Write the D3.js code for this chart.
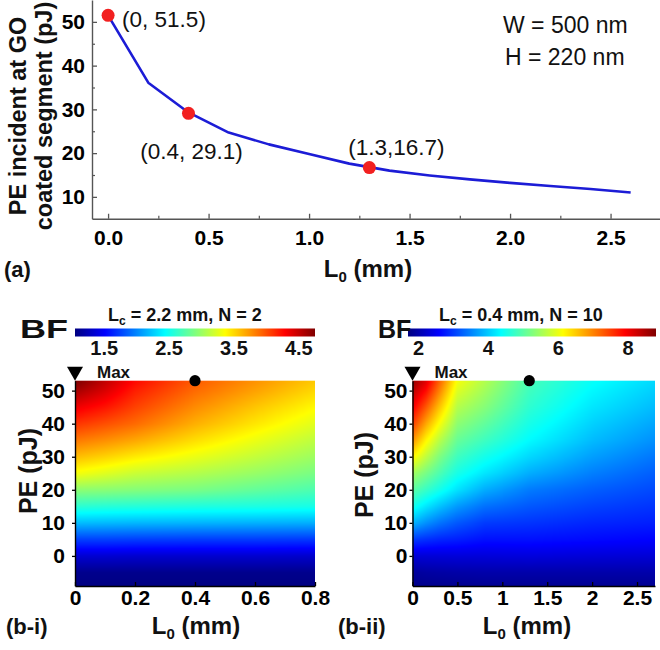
<!DOCTYPE html>
<html>
<head>
<meta charset="utf-8">
<script src="https://cdn.jsdelivr.net/npm/d3@7"></script>
<style>
  body { margin: 0; background: #fff; }
  svg { display: block; font-family: "Liberation Sans", Arial, sans-serif; }
</style>
</head>
<body>
<svg id="fig" width="660" height="650"></svg>
<script>
// ---------- panel (a): pulse energy reaching the GO-coated segment ----------
const lengthMm    = [0, 0.2, 0.4, 0.6, 0.8, 1.0, 1.2, 1.4, 1.6, 1.8, 2.0, 2.2, 2.4, 2.6];
const pulseEnergy = [51.5, 36.1, 29.3, 24.7, 22.0, 19.8, 17.6, 16.0, 14.9, 14.0, 13.2, 12.5, 11.8, 11.0];
const markedL0     = [0, 0.4, 1.3];
const markedPE     = [51.5, 29.1, 16.7];
const markedLabels = ["(0, 51.5)", "(0.4, 29.1)", "(1.3,16.7)"];
const xTicksA      = [0, 0.5, 1.0, 1.5, 2.0, 2.5];
const xMinorA      = [0.25, 0.75, 1.25, 1.75, 2.25];
const yTicksA      = [10, 20, 30, 40, 50];
const yMinorA      = [15, 25, 35, 45];

// ---------- panels (b): bend factor BF over (L0, PE) ----------
const peRows = [52.5, 50, 45, 40, 35, 30, 25, 20, 15, 10, 5, 0, -5, -10];
const peTicks = [0, 10, 20, 30, 40, 50];

// (b-i) Lc = 2.2 mm, N = 2
const l0Cols1 = [0, 0.1, 0.2, 0.4, 0.6, 0.8];
const bfGrid1 = [
  [4.75, 4.50, 4.25, 3.95, 3.75, 3.55],
  [4.62, 4.42, 4.18, 3.90, 3.70, 3.50],
  [4.35, 4.22, 4.05, 3.78, 3.57, 3.38],
  [4.10, 4.00, 3.90, 3.65, 3.45, 3.26],
  [3.85, 3.77, 3.68, 3.48, 3.30, 3.13],
  [3.60, 3.52, 3.43, 3.29, 3.15, 3.01],
  [3.33, 3.25, 3.17, 3.09, 2.99, 2.88],
  [2.95, 2.94, 2.92, 2.88, 2.80, 2.72],
  [2.60, 2.58, 2.57, 2.55, 2.54, 2.52],
  [2.20, 2.19, 2.18, 2.17, 2.16, 2.15],
  [1.75, 1.75, 1.74, 1.73, 1.73, 1.72],
  [1.35, 1.35, 1.34, 1.34, 1.34, 1.33],
  [1.10, 1.10, 1.10, 1.10, 1.10, 1.10],
  [1.05, 1.05, 1.05, 1.05, 1.05, 1.05]
];
const xTicks1 = [0, 0.2, 0.4, 0.6, 0.8];
const bfRange1 = [1.05, 4.75];
const bfTicks1 = [1.5, 2.5, 3.5, 4.5];

// (b-ii) Lc = 0.4 mm, N = 10
const l0Cols2 = [0, 0.15, 0.3, 0.5, 0.8, 1.3, 2.0, 2.7];
const bfGrid2 = [
  [8.60, 8.10, 7.20, 6.05, 5.60, 4.85, 4.40, 4.10],
  [8.40, 7.85, 7.00, 5.90, 5.50, 4.80, 4.33, 4.03],
  [8.00, 7.30, 6.55, 5.62, 5.30, 4.68, 4.20, 3.90],
  [7.50, 6.75, 6.10, 5.35, 5.05, 4.52, 4.05, 3.75],
  [6.90, 6.20, 5.65, 5.08, 4.80, 4.35, 3.90, 3.60],
  [6.20, 5.70, 5.25, 4.80, 4.50, 4.10, 3.70, 3.42],
  [5.50, 5.20, 4.90, 4.52, 4.20, 3.80, 3.48, 3.25],
  [5.00, 4.75, 4.50, 4.17, 3.80, 3.45, 3.25, 3.10],
  [4.50, 4.20, 3.95, 3.66, 3.38, 3.20, 3.05, 2.95],
  [3.85, 3.60, 3.40, 3.20, 3.00, 2.95, 2.85, 2.80],
  [3.00, 2.92, 2.85, 2.80, 2.70, 2.70, 2.65, 2.60],
  [2.30, 2.31, 2.32, 2.33, 2.33, 2.35, 2.32, 2.30],
  [1.90, 1.94, 1.96, 1.98, 2.00, 2.00, 2.00, 2.00],
  [1.75, 1.76, 1.77, 1.78, 1.80, 1.80, 1.80, 1.80]
];
const xTicks2 = [0, 0.5, 1, 1.5, 2, 2.5];
const bfRange2 = [1.7, 8.8];
const bfTicks2 = [2, 4, 6, 8];

// jet colour map stops
const jet = ["#00007f", "#0000ff", "#007fff", "#00ffff", "#7fff7f", "#ffff00", "#ff7f00", "#ff0000", "#7f0000"];

const svg = d3.select("#fig");
const FONT = '"Liberation Sans", Arial, sans-serif';

function styleAxis(g, size, color) {
  g.attr("font-family", FONT).attr("font-size", size).attr("font-weight", "bold");
  g.selectAll("text").attr("fill", "#000");
  g.selectAll("line").attr("stroke", color).attr("stroke-width", 1.3);
  g.select(".domain").attr("stroke", color).attr("stroke-width", 1.4);
}

// text with a subscript: base, sub, rest
function subText(sel, base, sub, rest, size, subSize) {
  sel.append("tspan").text(base);
  sel.append("tspan").attr("font-size", subSize).attr("dy", size * 0.22).text(sub);
  sel.append("tspan").attr("dy", -size * 0.22).text(rest);
}

// ================= panel (a) =================
const xA = d3.scaleLinear().domain([-0.08, 2.746]).range([92, 660]);
const yA = d3.scaleLinear().domain([5, 55]).range([218.75, 0]);

const gxA = svg.append("g").attr("transform", `translate(0,${yA(5)})`)
  .call(d3.axisBottom(xA).tickValues(xTicksA).tickFormat(d3.format(".1f"))
    .tickSizeInner(-5).tickSizeOuter(0).tickPadding(11));
styleAxis(gxA, 21, "#555");
const gxAm = svg.append("g").attr("transform", `translate(0,${yA(5)})`)
  .call(d3.axisBottom(xA).tickValues(xMinorA).tickFormat("").tickSizeInner(-3).tickSizeOuter(0));
gxAm.select(".domain").remove();
gxAm.selectAll("line").attr("stroke", "#555").attr("stroke-width", 1.2);

const gyA = svg.append("g").attr("transform", `translate(${xA(-0.08)},0)`)
  .call(d3.axisLeft(yA).tickValues(yTicksA).tickSizeInner(-5).tickSizeOuter(0).tickPadding(7));
styleAxis(gyA, 21, "#555");
const gyAm = svg.append("g").attr("transform", `translate(${xA(-0.08)},0)`)
  .call(d3.axisLeft(yA).tickValues(yMinorA).tickFormat("").tickSizeInner(-3).tickSizeOuter(0));
gyAm.select(".domain").remove();
gyAm.selectAll("line").attr("stroke", "#555").attr("stroke-width", 1.2);

const curve = lengthMm.map((l, i) => [l, pulseEnergy[i]]);
svg.append("path")
  .attr("d", d3.line().x(d => xA(d[0])).y(d => yA(d[1]))(curve))
  .attr("fill", "none").attr("stroke", "#1c1cd6").attr("stroke-width", 2.6)
  .attr("stroke-linejoin", "round");

svg.selectAll("circle.mark").data(markedL0).join("circle").attr("class", "mark")
  .attr("cx", (d) => xA(d)).attr("cy", (d, i) => yA(markedPE[i]))
  .attr("r", 6.5).attr("fill", "#f22020");

// point annotations, offset from each marked point
const labelOffsets = [[14, 12, "start"], [3, 46, "middle"], [27, -12.5, "middle"]];
svg.selectAll("text.mlabel").data(markedLabels).join("text").attr("class", "mlabel")
  .attr("x", (d, i) => xA(markedL0[i]) + labelOffsets[i][0])
  .attr("y", (d, i) => yA(markedPE[i]) + labelOffsets[i][1])
  .attr("text-anchor", (d, i) => labelOffsets[i][2])
  .attr("font-family", FONT).attr("font-size", 22.5).attr("fill", "#111")
  .text(d => d);

svg.append("text").attr("x", 503).attr("y", 33).attr("font-family", FONT)
  .attr("font-size", 23).attr("fill", "#111").text("W = 500 nm");
svg.append("text").attr("x", 505).attr("y", 65).attr("font-family", FONT)
  .attr("font-size", 23).attr("fill", "#111").text("H = 220 nm");

const yTitleA = svg.append("g").attr("transform", "translate(0,116) rotate(-90)")
  .attr("font-family", FONT).attr("font-size", 23.5).attr("font-weight", "bold")
  .attr("text-anchor", "middle").attr("fill", "#111");
yTitleA.append("text").attr("x", 0).attr("y", 26).text("PE incident at GO");
yTitleA.append("text").attr("x", 0).attr("y", 52).text("coated segment (pJ)");

const xTitleA = svg.append("text").attr("x", 368).attr("y", 277)
  .attr("text-anchor", "middle").attr("font-family", FONT)
  .attr("font-size", 24).attr("font-weight", "bold").attr("fill", "#111");
subText(xTitleA, "L", "0", " (mm)", 24, 15);

svg.append("text").attr("x", 4).attr("y", 277).attr("font-family", FONT)
  .attr("font-size", 22).attr("font-weight", "bold").attr("fill", "#111").text("(a)");

// ================= panels (b) =================
const yB = d3.scaleLinear().domain([-9.1, 53.0]).range([586, 380.7]);

function makeField(cols, rowsDesc, grid) {
  const rows = rowsDesc.slice().reverse();
  const g = grid.slice().reverse();
  return (l, p) => {
    const i = Math.max(0, Math.min(cols.length - 2, d3.bisectRight(cols, l) - 1));
    const j = Math.max(0, Math.min(rows.length - 2, d3.bisectRight(rows, p) - 1));
    const tx = Math.max(0, Math.min(1, (l - cols[i]) / (cols[i + 1] - cols[i])));
    const ty = Math.max(0, Math.min(1, (p - rows[j]) / (rows[j + 1] - rows[j])));
    const a = g[j][i] * (1 - tx) + g[j][i + 1] * tx;
    const b = g[j + 1][i] * (1 - tx) + g[j + 1][i + 1] * tx;
    return a * (1 - ty) + b * ty;
  };
}

const panels = [
  { range: [75, 315], l0Max: 0.8, cols: l0Cols1, grid: bfGrid1, xTicks: xTicks1,
    xFmt: d => d === 0 ? "0" : d.toFixed(1), bf: bfRange1, bfTicks: bfTicks1, bfFmt: d3.format(".1f"),
    bar: [75, 315], lc: " = 2.2 mm, N = 2", titleX: 185, bfX: 20, bfLen: 48, yPad: 10,
    peX: 37, peY: 471, lX: 196, tag: "(b-i)", tagX: 6, dotL0: markedL0[1] },
  { range: [412.5, 655], l0Max: 2.7, cols: l0Cols2, grid: bfGrid2, xTicks: xTicks2,
    xFmt: d => String(d), bf: bfRange2, bfTicks: bfTicks2, bfFmt: d3.format("d"),
    bar: [408, 656], lc: " = 0.4 mm, N = 10", titleX: 521, bfX: 378, bfLen: null, yPad: 5,
    peX: 373, peY: 475, lX: 527, tag: "(b-ii)", tagX: 338, dotL0: markedL0[2] }
];

panels.forEach((p, k) => {
  const x = d3.scaleLinear().domain([0, p.l0Max]).range(p.range);
  const stops = d3.range(jet.length).map(i => p.bf[0] + i * (p.bf[1] - p.bf[0]) / (jet.length - 1));
  const color = d3.scaleLinear().domain(stops).range(jet).clamp(true);
  const field = makeField(p.cols, peRows, p.grid);

  // heat map raster
  const w = Math.round(p.range[1] - p.range[0]);
  const h = Math.round(yB.range()[0] - yB.range()[1]);
  const cv = document.createElement("canvas");
  cv.width = w; cv.height = h;
  const ctx = cv.getContext("2d");
  const img = ctx.createImageData(w, h);
  for (let py = 0; py < h; py++) {
    const pe = yB.invert(yB.range()[1] + (py + 0.5) * (yB.range()[0] - yB.range()[1]) / h);
    for (let px = 0; px < w; px++) {
      const l0 = x.invert(p.range[0] + (px + 0.5) * (p.range[1] - p.range[0]) / w);
      const c = d3.rgb(color(field(l0, pe)));
      const o = (py * w + px) * 4;
      img.data[o] = c.r; img.data[o + 1] = c.g; img.data[o + 2] = c.b; img.data[o + 3] = 255;
    }
  }
  ctx.putImageData(img, 0, 0);
  svg.append("image").attr("href", cv.toDataURL())
    .attr("x", p.range[0]).attr("y", yB.range()[1])
    .attr("width", p.range[1] - p.range[0]).attr("height", yB.range()[0] - yB.range()[1])
    .attr("preserveAspectRatio", "none");

  // axes
  const gx = svg.append("g").attr("transform", `translate(0,${yB.range()[0]})`)
    .call(d3.axisBottom(x).tickValues(p.xTicks).tickFormat(p.xFmt)
      .tickSizeInner(-4).tickSizeOuter(0).tickPadding(4));
  styleAxis(gx, 21, "#000");
  const gy = svg.append("g").attr("transform", `translate(${p.range[0]},0)`)
    .call(d3.axisLeft(yB).tickValues(peTicks).tickSizeInner(3).tickSizeOuter(0).tickPadding(p.yPad - 3));
  styleAxis(gy, 21, "#000");

  // axis titles
  svg.append("text").attr("transform", `translate(${p.peX},${p.peY}) rotate(-90)`)
    .attr("text-anchor", "middle").attr("font-family", FONT).attr("font-size", 25)
    .attr("font-weight", "bold").attr("fill", "#111").text("PE (pJ)");
  const lT = svg.append("text").attr("x", p.lX).attr("y", 634).attr("text-anchor", "middle")
    .attr("font-family", FONT).attr("font-size", 24).attr("font-weight", "bold").attr("fill", "#111");
  subText(lT, "L", "0", " (mm)", 24, 15);
  svg.append("text").attr("x", p.tagX).attr("y", 634).attr("font-family", FONT)
    .attr("font-size", 22).attr("font-weight", "bold").attr("fill", "#111").text(p.tag);

  // max marker and operating point
  const top = yB.range()[1];
  svg.append("path")
    .attr("d", `M${x(0) - 8},${top - 14}L${x(0) + 8},${top - 14}L${x(0)},${top}Z`)
    .attr("fill", "#000");
  svg.append("text").attr("x", x(0) + 22).attr("y", top - 3).attr("font-family", FONT)
    .attr("font-size", 17).attr("font-weight", "bold").attr("fill", "#111").text("Max");
  svg.append("circle").attr("cx", x(p.dotL0)).attr("cy", yB(yB.domain()[1])).attr("r", 5.6).attr("fill", "#000");

  // colour bar
  const cb = d3.scaleLinear().domain(p.bf).range(p.bar);
  const gid = "jetgrad" + k;
  const grad = svg.append("defs").append("linearGradient").attr("id", gid)
    .attr("x1", "0%").attr("x2", "100%").attr("y1", "0%").attr("y2", "0%");
  d3.range(41).forEach(i => {
    const v = p.bf[0] + i * (p.bf[1] - p.bf[0]) / 40;
    grad.append("stop").attr("offset", (i / 40 * 100) + "%").attr("stop-color", color(v));
  });
  svg.append("rect").attr("x", p.bar[0]).attr("y", 328.5).attr("width", p.bar[1] - p.bar[0])
    .attr("height", 8).attr("fill", `url(#${gid})`);
  svg.selectAll(null).data(p.bfTicks).join("text")
    .attr("x", d => cb(d)).attr("y", 355).attr("text-anchor", "middle")
    .attr("font-family", FONT).attr("font-size", 20).attr("font-weight", "bold").attr("fill", "#111")
    .text(p.bfFmt);
  const bfT = svg.append("text").attr("x", p.bfX).attr("y", 338).attr("font-family", FONT)
    .attr("font-size", 25).attr("font-weight", "bold").attr("fill", "#111").text("BF");
  if (p.bfLen) bfT.attr("textLength", p.bfLen).attr("lengthAdjust", "spacingAndGlyphs");
  const cT = svg.append("text").attr("x", p.titleX).attr("y", 321).attr("text-anchor", "middle")
    .attr("font-family", FONT).attr("font-size", 18).attr("font-weight", "bold").attr("fill", "#111");
  subText(cT, "L", "c", p.lc, 18, 12);
});
</script>
</body>
</html>
